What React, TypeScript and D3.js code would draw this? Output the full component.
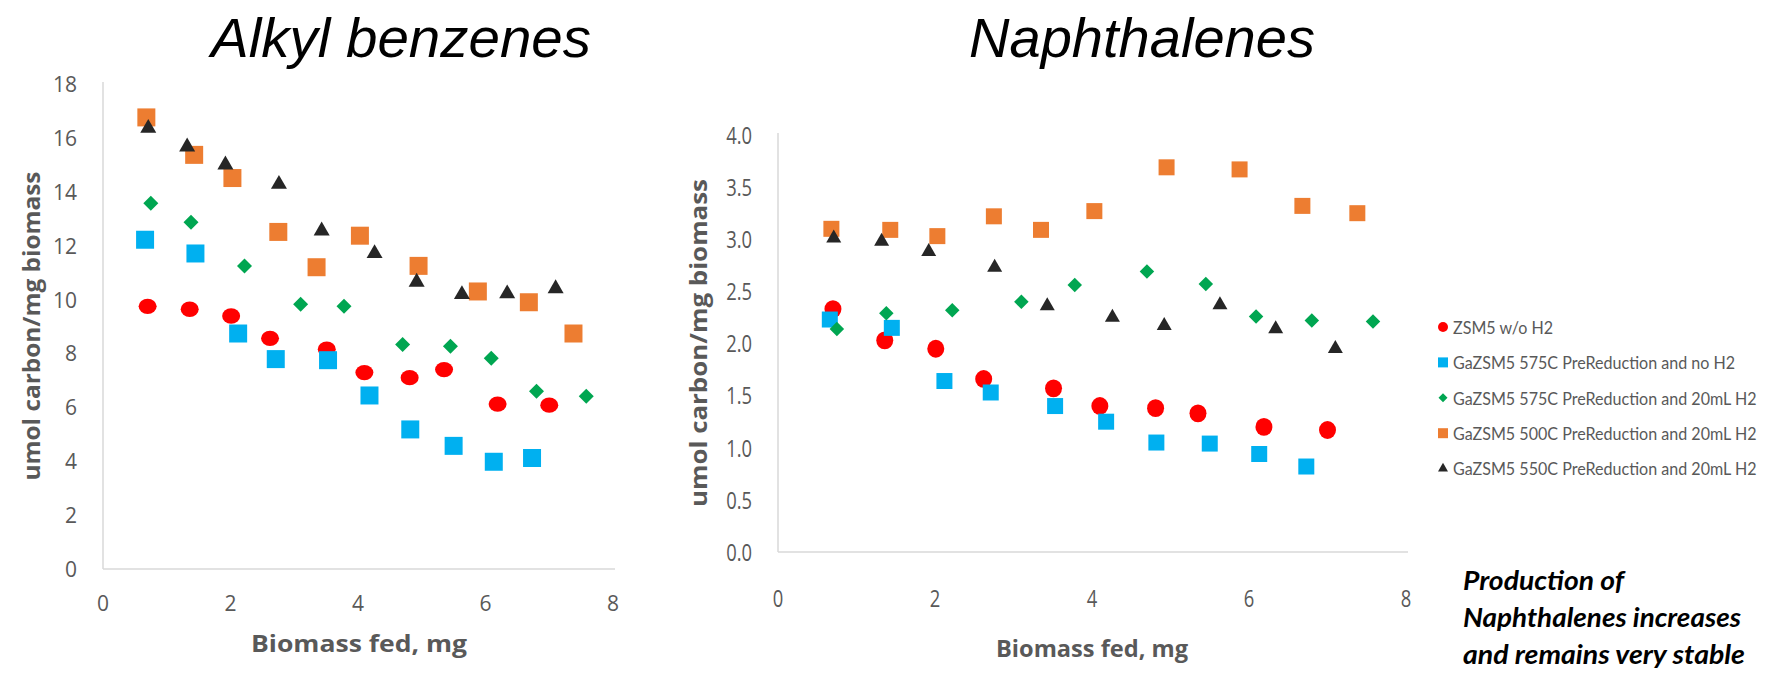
import React from 'react';
import * as d3 from 'd3';

// legend / series
const seriesNames = [
  'ZSM5 w/o H2',
  'GaZSM5 575C PreReduction and no H2',
  'GaZSM5 575C PreReduction and 20mL H2',
  'GaZSM5 500C PreReduction and 20mL H2',
  'GaZSM5 550C PreReduction and 20mL H2',
];
const seriesColors = ['#FF0000', '#00B0F0', '#00A651', '#ED7D31', '#262626'];
const seriesShapes = ['circle', 'square', 'diamond', 'square', 'triangle'];

// biomass fed (mg), same runs in both panels
const xZsm5 = [0.7, 1.36, 2.01, 2.62, 3.51, 4.1, 4.81, 5.35, 6.19, 7.0];
const xGa575NoH2 = [0.66, 1.45, 2.12, 2.71, 3.53, 4.18, 4.82, 5.5, 6.13, 6.73];
const xGa575H2 = [0.75, 1.38, 2.22, 3.1, 3.78, 4.7, 5.45, 6.09, 6.8, 7.58];
const xGa500H2 = [0.68, 1.43, 2.03, 2.75, 3.35, 4.03, 4.95, 5.88, 6.68, 7.38];
const xGa550H2 = [0.71, 1.32, 1.92, 2.76, 3.43, 4.26, 4.92, 5.63, 6.34, 7.1];

// alkyl benzenes, umol carbon / mg biomass
const alkylZsm5 = [9.75, 9.64, 9.39, 8.56, 8.16, 7.29, 7.1, 7.4, 6.12, 6.08];
const alkylGa575NoH2 = [12.22, 11.71, 8.74, 7.79, 7.75, 6.44, 5.18, 4.57, 3.98, 4.12];
const alkylGa575H2 = [13.57, 12.87, 11.25, 9.83, 9.75, 8.33, 8.27, 7.82, 6.6, 6.41];
const alkylGa500H2 = [16.76, 15.37, 14.51, 12.51, 11.2, 12.37, 11.25, 10.3, 9.9, 8.74];
const alkylGa550H2 = [16.36, 15.67, 15.0, 14.28, 12.55, 11.71, 10.65, 10.19, 10.22, 10.41];

// naphthalenes, umol carbon / mg biomass
const naphZsm5 = [2.33, 2.03, 1.95, 1.66, 1.57, 1.4, 1.38, 1.33, 1.2, 1.17];
const naphGa575NoH2 = [2.23, 2.15, 1.64, 1.53, 1.4, 1.25, 1.05, 1.04, 0.94, 0.82];
const naphGa575H2 = [2.14, 2.29, 2.32, 2.4, 2.56, 2.69, 2.57, 2.26, 2.22, 2.21];
const naphGa500H2 = [3.1, 3.09, 3.03, 3.22, 3.09, 3.27, 3.69, 3.67, 3.32, 3.25];
const naphGa550H2 = [3.01, 2.98, 2.88, 2.73, 2.36, 2.25, 2.17, 2.37, 2.14, 1.95];

const xSeries = [xZsm5, xGa575NoH2, xGa575H2, xGa500H2, xGa550H2];
const alkylSeries = [alkylZsm5, alkylGa575NoH2, alkylGa575H2, alkylGa500H2, alkylGa550H2];
const naphSeries = [naphZsm5, naphGa575NoH2, naphGa575H2, naphGa500H2, naphGa550H2];

const xTicks = [0, 2, 4, 6, 8];
const alkylTicks = [0, 2, 4, 6, 8, 10, 12, 14, 16, 18];
const naphTicks = [0, 0.5, 1, 1.5, 2, 2.5, 3, 3.5, 4];

const noteLines = ['Production of', 'Naphthalenes increases', 'and remains very stable'];

const gray = '#595959';
const axisColor = '#D9D9D9';

// size = marker width in px
function markerPath(shape, size) {
  if (shape === 'circle') return d3.symbol(d3.symbolCircle, Math.PI * (size / 2) ** 2)();
  if (shape === 'square') return d3.symbol(d3.symbolSquare, size * size)();
  if (shape === 'diamond') return d3.symbol(d3.symbolSquare, (size * size) / 2)();
  return d3.symbol(d3.symbolTriangle, (Math.sqrt(3) / 4) * size * size)();
}

function Marker({ shape, size, color, x, y, squash = 1 }) {
  const rot = shape === 'diamond' ? ' rotate(45)' : '';
  const sc = shape === 'circle' ? ` scale(1,${squash})` : '';
  return <path d={markerPath(shape, size)} fill={color} transform={`translate(${x},${y})${sc}${rot}`} />;
}

function Panel({ left, right, top, bottom, yMax, yTicks, yFmt, ys, sizes, squash, condense, labelSize, yTitle, xTitle }) {
  const x = d3.scaleLinear().domain([0, 8]).range([left, right]);
  const y = d3.scaleLinear().domain([0, yMax]).range([bottom, top]);
  return (
    <g>
      <line x1={left} x2={left} y1={top - 2} y2={bottom} stroke={axisColor} strokeWidth={1.5} />
      <line x1={left} x2={right + 2} y1={bottom} y2={bottom} stroke={axisColor} strokeWidth={1.5} />
      {yTicks.map(t => (
        <text key={t} transform={`translate(${left - 26},${y(t)}) scale(${condense},1)`} textAnchor="end"
          dominantBaseline="central" fontFamily="Open Sans" fontSize={labelSize} fill={gray}>{yFmt(t)}</text>
      ))}
      {xTicks.map(t => (
        <text key={t} transform={`translate(${x(t)},${bottom + xTitle.tickGap}) scale(${condense},1)`} textAnchor="middle"
          dominantBaseline="central" fontFamily="Open Sans" fontSize={labelSize} fill={gray}>{t}</text>
      ))}
      {ys.map((vals, si) => vals.map((v, i) => (
        <Marker key={si + '-' + i} shape={seriesShapes[si]} size={sizes[seriesShapes[si]]}
          color={seriesColors[si]} x={x(xSeries[si][i])} y={y(v)} squash={squash} />
      )))}
      <text transform={`translate(${yTitle.x},${yTitle.y}) rotate(-90)`} textAnchor="middle" dominantBaseline="central"
        fontFamily="Open Sans" fontWeight="bold" fontSize={24} fill={gray}
        textLength={yTitle.len} lengthAdjust="spacingAndGlyphs">umol carbon/mg biomass</text>
      <text x={xTitle.x} y={xTitle.y} textAnchor="middle" dominantBaseline="central"
        fontFamily="Open Sans" fontWeight="bold" fontSize={24} fill={gray}
        textLength={xTitle.len} lengthAdjust="spacingAndGlyphs">Biomass fed, mg</text>
    </g>
  );
}

export default function App() {
  const noteWidths = [161, 278, 282];
  return (
    <svg width={1777} height={673} style={{ position: 'absolute', left: 0, top: 0, background: '#fff' }}>
      <text x={401} y={57} textAnchor="middle" fontFamily="Liberation Sans" fontStyle="italic" fontSize={56}
        fill="#000" textLength={380} lengthAdjust="spacingAndGlyphs">Alkyl benzenes</text>
      <text x={1142} y={57} textAnchor="middle" fontFamily="Liberation Sans" fontStyle="italic" fontSize={56}
        fill="#000" textLength={346} lengthAdjust="spacingAndGlyphs">Naphthalenes</text>

      <Panel left={103} right={613} top={84} bottom={569} yMax={18} yTicks={alkylTicks} yFmt={d => String(d)}
        ys={alkylSeries} sizes={{ circle: 18, square: 18, diamond: 15, triangle: 16 }} squash={0.85}
        condense={1} labelSize={21}
        yTitle={{ x: 30, y: 326, len: 309 }} xTitle={{ x: 359, y: 642, len: 216, tickGap: 34 }} />

      <Panel left={778} right={1406} top={135} bottom={552} yMax={4} yTicks={naphTicks} yFmt={d3.format('.1f')}
        ys={naphSeries} sizes={{ circle: 17, square: 16, diamond: 14.5, triangle: 15 }} squash={1.05}
        condense={0.8} labelSize={23}
        yTitle={{ x: 697, y: 343, len: 328 }} xTitle={{ x: 1092, y: 647, len: 192, tickGap: 46 }} />

      <g fontFamily="Lato" fontSize={17.5} fill={gray}>
        {seriesNames.map((name, i) => (
          <g key={name} transform={`translate(1443,${327 + i * 35.4})`}>
            <Marker shape={seriesShapes[i]} size={seriesShapes[i] === 'diamond' ? 9 : 10} color={seriesColors[i]} x={0} y={0} />
            <text transform="translate(10,0) scale(0.92,1)" dominantBaseline="central">{name}</text>
          </g>
        ))}
      </g>

      <g fontFamily="Lato" fontWeight="bold" fontStyle="italic" fontSize={27} fill="#000">
        {noteLines.map((s, i) => (
          <text key={s} x={1463} y={590 + i * 37} textLength={noteWidths[i]} lengthAdjust="spacingAndGlyphs">{s}</text>
        ))}
      </g>
    </svg>
  );
}
